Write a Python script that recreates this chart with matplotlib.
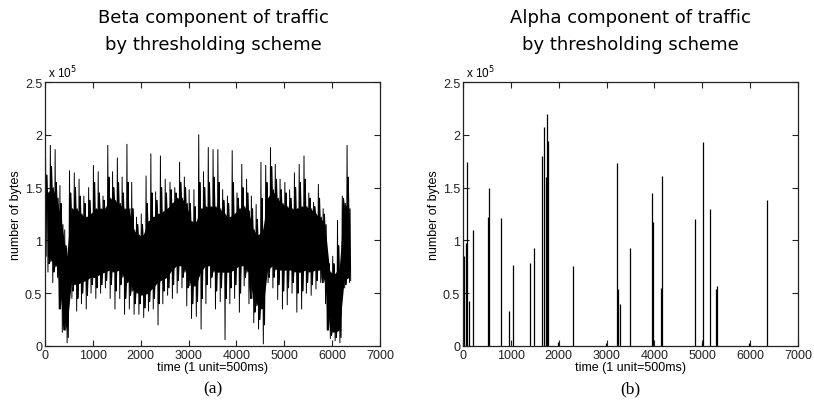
import numpy as np
import matplotlib
matplotlib.use("Agg")
import matplotlib.pyplot as plt

# beta component, read per 100-unit bin (values in units of 1e5 bytes)
beta_bin_start = list(range(0, 6400, 100))
# tallest spike / deepest dip in each bin
beta_hi = [1.78, 1.90, 1.86, 1.52, 1.10, 1.66, 1.64, 1.58, 1.42, 1.50,
           1.71, 1.65, 1.42, 1.90, 1.65, 1.78, 1.60, 1.91, 1.55, 1.22,
           1.25, 1.61, 1.82, 1.46, 1.80, 1.58, 1.55, 1.50, 1.74, 1.60,
           1.48, 1.48, 2.00, 1.65, 1.88, 1.86, 1.86, 1.48, 1.42, 1.85,
           1.45, 1.72, 1.58, 1.42, 1.34, 1.74, 1.71, 1.88, 1.72, 1.58,
           1.55, 1.48, 1.64, 1.72, 1.80, 1.45, 1.36, 1.53, 1.30, 0.82,
           0.85, 1.19, 1.42, 1.90]
beta_lo = [0.70, 0.60, 0.65, 0.13, 0.03, 0.45, 0.33, 0.40, 0.35, 0.50,
           0.45, 0.50, 0.55, 0.45, 0.35, 0.45, 0.30, 0.35, 0.30, 0.30,
           0.27, 0.33, 0.35, 0.20, 0.40, 0.48, 0.45, 0.50, 0.55, 0.38,
           0.26, 0.28, 0.16, 0.40, 0.55, 0.35, 0.42, 0.06, 0.40, 0.45,
           0.32, 0.57, 0.40, 0.22, 0.16, 0.02, 0.60, 0.55, 0.44, 0.35,
           0.39, 0.50, 0.32, 0.35, 0.50, 0.48, 0.54, 0.60, 0.40, 0.07,
           0.05, 0.03, 0.55, 0.60]
# second-tallest spike / second-deepest dip in each bin
beta_hi2 = [1.62, 1.70, 1.55, 1.35, 0.95, 1.45, 1.50, 1.42, 1.35, 1.38,
            1.55, 1.45, 1.38, 1.60, 1.50, 1.55, 1.45, 1.55, 1.30, 1.15,
            1.15, 1.35, 1.45, 1.38, 1.50, 1.45, 1.48, 1.45, 1.55, 1.50,
            1.35, 1.32, 1.55, 1.50, 1.55, 1.60, 1.55, 1.38, 1.35, 1.55,
            1.40, 1.50, 1.45, 1.30, 1.20, 1.40, 1.55, 1.70, 1.58, 1.48,
            1.45, 1.40, 1.50, 1.55, 1.58, 1.40, 1.32, 1.40, 1.25, 0.78,
            0.78, 0.95, 1.40, 1.60]
beta_lo2 = [0.78, 0.70, 0.70, 0.25, 0.08, 0.52, 0.45, 0.50, 0.48, 0.58,
            0.55, 0.58, 0.62, 0.58, 0.52, 0.58, 0.45, 0.48, 0.40, 0.40,
            0.36, 0.42, 0.45, 0.40, 0.52, 0.55, 0.58, 0.62, 0.65, 0.55,
            0.40, 0.42, 0.45, 0.58, 0.65, 0.52, 0.55, 0.45, 0.55, 0.58,
            0.50, 0.65, 0.55, 0.32, 0.25, 0.20, 0.65, 0.65, 0.58, 0.52,
            0.55, 0.60, 0.50, 0.52, 0.60, 0.58, 0.62, 0.65, 0.50, 0.10,
            0.08, 0.08, 0.58, 0.62]
# solid black band
beta_core_hi = [1.45, 1.50, 1.40, 1.15, 0.85, 1.30, 1.30, 1.25, 1.22, 1.25,
                1.30, 1.30, 1.30, 1.40, 1.38, 1.35, 1.30, 1.30, 1.10, 1.05,
                1.05, 1.18, 1.22, 1.25, 1.27, 1.30, 1.35, 1.40, 1.40, 1.35,
                1.18, 1.17, 1.30, 1.32, 1.32, 1.32, 1.30, 1.25, 1.22, 1.25,
                1.30, 1.32, 1.28, 1.10, 1.05, 1.10, 1.40, 1.48, 1.40, 1.35,
                1.32, 1.30, 1.30, 1.32, 1.32, 1.30, 1.25, 1.22, 1.15, 0.70,
                0.68, 0.75, 1.35, 1.30]
beta_core_lo = [0.85, 0.80, 0.75, 0.35, 0.15, 0.60, 0.58, 0.60, 0.62, 0.65,
                0.65, 0.68, 0.70, 0.72, 0.70, 0.72, 0.65, 0.60, 0.52, 0.50,
                0.48, 0.50, 0.55, 0.60, 0.63, 0.65, 0.72, 0.76, 0.76, 0.70,
                0.57, 0.57, 0.70, 0.76, 0.76, 0.70, 0.70, 0.70, 0.70, 0.72,
                0.76, 0.76, 0.70, 0.45, 0.38, 0.35, 0.72, 0.76, 0.72, 0.72,
                0.72, 0.72, 0.70, 0.70, 0.72, 0.70, 0.72, 0.72, 0.60, 0.15,
                0.13, 0.15, 0.62, 0.65]

# alpha component spikes
alpha_t = [10, 20, 70, 90, 132, 216, 530, 550, 787, 968, 1038, 1394, 1477,
           1651, 1693, 1735, 1749, 1777, 1979, 2306, 2989, 3212, 3233, 3281,
           3490, 3950, 3971, 4145, 4166, 4842, 4988, 5010, 5156, 5288, 5309,
           5984, 6347]
alpha_v = [0.19, 0.85, 0.98, 1.74, 0.43, 1.10, 1.22, 1.50, 1.21, 0.33, 0.77,
           0.79, 0.93, 1.80, 2.07, 1.60, 2.20, 1.94, 0.04, 0.76, 0.03, 1.73,
           0.54, 0.40, 0.93, 1.45, 1.17, 0.55, 1.61, 1.20, 0.03, 1.93, 1.30,
           0.54, 0.57, 0.03, 1.38]

scale = 1e5
W, H = 814, 410
fig = plt.figure(figsize=(W / 100, H / 100), dpi=100)

tick_font = {"family": "Liberation Sans", "size": 9}


def style_axes(ax):
    ax.set_xlim(0, 7000)
    ax.set_ylim(0, 2.5 * scale)
    ax.set_xticks(range(0, 7001, 1000))
    ax.set_yticks([0, 0.5e5, 1e5, 1.5e5, 2e5, 2.5e5])
    ax.set_yticklabels(["0", "0.5", "1", "1.5", "2", "2.5"], **tick_font)
    ax.set_xticklabels([str(v) for v in range(0, 7001, 1000)], **tick_font)
    ax.tick_params(direction="in", top=True, right=True, length=4,
                   width=0.8, pad=2, colors="#222222")
    for sp in ax.spines.values():
        sp.set_linewidth(0.9)
        sp.set_color("#222222")
    ax.set_xlabel("time (1 unit=500ms)", labelpad=0, **tick_font)
    ax.set_ylabel("number of bytes", labelpad=2, **tick_font)
    ax.text(0.01, 1.005, r"x 10$^5$", transform=ax.transAxes,
            fontsize=8.5, family="Liberation Sans", ha="left", va="bottom")


axl = fig.add_axes([45 / W, 1 - 347 / H, 335 / W, 264 / H])
axr = fig.add_axes([463 / W, 1 - 347 / H, 335 / W, 264 / H])

# beta: solid band plus up/down spikes leaving it
centers = np.array(beta_bin_start) + 50
axl.fill_between(centers, np.array(beta_core_lo) * scale,
                 np.array(beta_core_hi) * scale, color="black", lw=0)
xs, ys = [], []
for b, h, h2, lo, lo2, ch, cl in zip(beta_bin_start, beta_hi, beta_hi2,
                                     beta_lo, beta_lo2, beta_core_hi,
                                     beta_core_lo):
    xs += [b, b + 12, b + 25, b + 37, b + 50, b + 62, b + 75, b + 87]
    ys += [cl, h, cl, h2, ch, lo, ch, lo2]
axl.plot(xs, np.array(ys) * scale, color="black", lw=0.7)
style_axes(axl)

axr.vlines(alpha_t, 0, np.array(alpha_v) * scale, color="black", lw=0.9)
style_axes(axr)

title_font = {"family": "DejaVu Sans", "size": 13}
fig.text(213 / W, 1 - 18 / H, "Beta component of traffic", ha="center",
         va="center", **title_font)
fig.text(213 / W, 1 - 45 / H, "by thresholding scheme", ha="center",
         va="center", **title_font)
fig.text(630 / W, 1 - 18 / H, "Alpha component of traffic", ha="center",
         va="center", **title_font)
fig.text(630 / W, 1 - 45 / H, "by thresholding scheme", ha="center",
         va="center", **title_font)

cap_font = {"family": "Liberation Serif", "size": 12.5}
fig.text(213 / W, 1 - 389 / H, "(a)", ha="center", va="center", **cap_font)
fig.text(630 / W, 1 - 389 / H, "(b)", ha="center", va="center", **cap_font)

fig.savefig("out.png", dpi=100)
